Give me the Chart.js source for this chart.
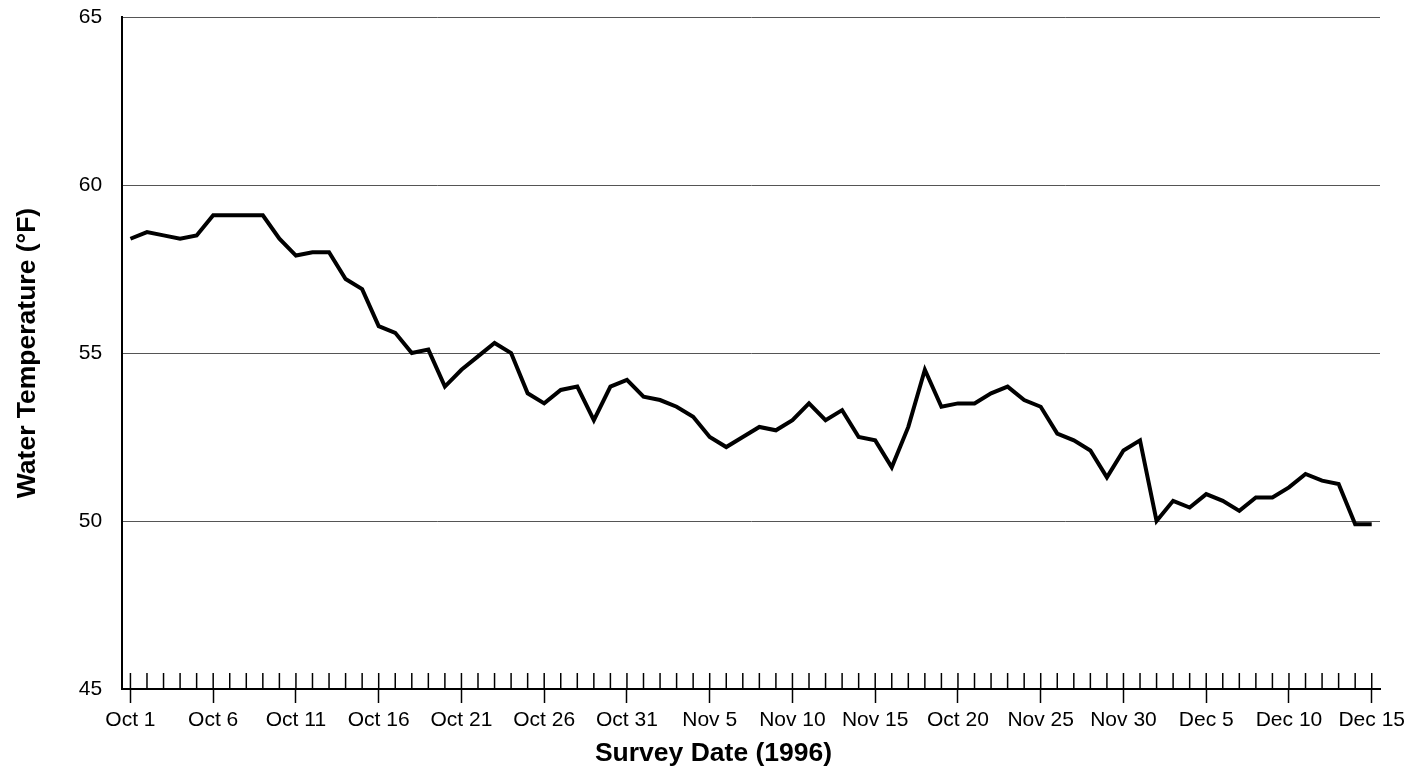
<!DOCTYPE html>
<html>
<head>
<meta charset="utf-8">
<script src="https://cdn.jsdelivr.net/npm/chart.js@4.4.1/dist/chart.umd.min.js"></script>
<style>
  html, body { margin: 0; padding: 0; background: #fff; }
  #wrap { width: 1427px; height: 771px; position: relative; }
</style>
</head>
<body>
<div id="wrap"><canvas id="tempChart"></canvas></div>
<script>
// survey days, Oct 1 - Dec 15 1996
const months = ["Oct", "Nov", "Dec"];
const daysInMonth = [31, 30, 15];

// water temperature (deg F), one reading per day
const temps = [
  58.4, 58.6, 58.5, 58.4, 58.5, 59.1, 59.1, 59.1, 59.1, 58.4,
  57.9, 58.0, 58.0, 57.2, 56.9, 55.8, 55.6, 55.0, 55.1, 54.0,
  54.5, 54.9, 55.3, 55.0, 53.8, 53.5, 53.9, 54.0, 53.0, 54.0,
  54.2, 53.7, 53.6, 53.4, 53.1, 52.5, 52.2, 52.5, 52.8, 52.7,
  53.0, 53.5, 53.0, 53.3, 52.5, 52.4, 51.6, 52.8, 54.5, 53.4,
  53.5, 53.5, 53.8, 54.0, 53.6, 53.4, 52.6, 52.4, 52.1, 51.3,
  52.1, 52.4, 50.0, 50.6, 50.4, 50.8, 50.6, 50.3, 50.7, 50.7,
  51.0, 51.4, 51.2, 51.1, 49.9, 49.9
];

// labels printed under every fifth day (as printed on the original)
const tickLabels = [
  "Oct 1", "Oct 6", "Oct 11", "Oct 16", "Oct 21", "Oct 26", "Oct 31", "Nov 5",
  "Nov 10", "Nov 15", "Oct 20", "Nov 25", "Nov 30", "Dec 5", "Dec 10", "Dec 15"
];

const yTicks = [45, 50, 55, 60, 65];

const days = [];
months.forEach((m, k) => {
  for (let d = 1; d <= daysInMonth[k]; d++) days.push(m + " " + d);
});

Chart.defaults.font.family = "'Liberation Sans', Arial, sans-serif";
Chart.defaults.color = "#000";

// small inward tick marks on the date axis
const innerTicks = {
  id: "innerTicks",
  afterDraw(chart) {
    const x = chart.scales.x;
    const bottom = chart.chartArea.bottom;
    const c = chart.ctx;
    c.save();
    c.strokeStyle = "#000";
    c.lineWidth = 1.5;
    x.ticks.forEach((t, i) => {
      const px = x.getPixelForTick(i);
      c.beginPath();
      c.moveTo(px, bottom - 16);
      c.lineTo(px, bottom);
      c.stroke();
    });
    c.restore();
  }
};

const data = {
  labels: days,
  datasets: [
    {
      label: "Water Temperature",
      data: temps,
      borderColor: "#000",
      borderWidth: 4,
      pointRadius: 0,
      tension: 0,
      fill: false,
    },
  ],
};

const config = {
  type: "line",
  data: data,
  options: {
    responsive: true,
    maintainAspectRatio: false,
    animation: false,
    // equal side padding keeps the bottom title centred on the page
    layout: { padding: { top: 17, right: 47, left: 47, bottom: 0 } },
    plugins: {
      legend: { display: false },
      tooltip: { enabled: false },
      title: {
        display: true,
        position: "bottom",
        text: "Survey Date (1996)",
        font: { size: 26.5, weight: "bold" },
        color: "#000",
        padding: { top: 0, bottom: 1 },
      },
    },
    scales: {
      x: {
        type: "category",
        offset: true,
        grid: {
          drawOnChartArea: false,
          drawTicks: true,
          tickLength: 14,
          tickWidth: 1.5,
          tickColor: (ctx) => (ctx.index % 5 === 0 ? "#000" : "rgba(0,0,0,0)"),
        },
        border: { color: "#000", width: 2 },
        ticks: {
          autoSkip: false,
          maxRotation: 0,
          minRotation: 0,
          padding: 5,
          font: { size: 21 },
          callback: (val, idx) => (idx % 5 === 0 ? tickLabels[idx / 5] : ""),
        },
      },
      y: {
        min: 45,
        max: 65,
        afterBuildTicks: (axis) => {
          axis.ticks = yTicks.map((v) => ({ value: v }));
        },
        grid: {
          color: "#555",
          lineWidth: 1,
          drawTicks: true,
          tickLength: 20,
          tickColor: "rgba(0,0,0,0)",
        },
        border: { color: "#000", width: 2 },
        ticks: { padding: 0, font: { size: 21 } },
        title: {
          display: true,
          text: "Water Temperature (°F)",
          font: { size: 26.5, weight: "bold" },
          color: "#000",
          // pulled back out into the left padding
          padding: { top: -35, bottom: 35 },
        },
      },
    },
  },
  plugins: [innerTicks],
};

const ctx = document.getElementById("tempChart").getContext("2d");
const tempChart = new Chart(ctx, config);
</script>
</body>
</html>
